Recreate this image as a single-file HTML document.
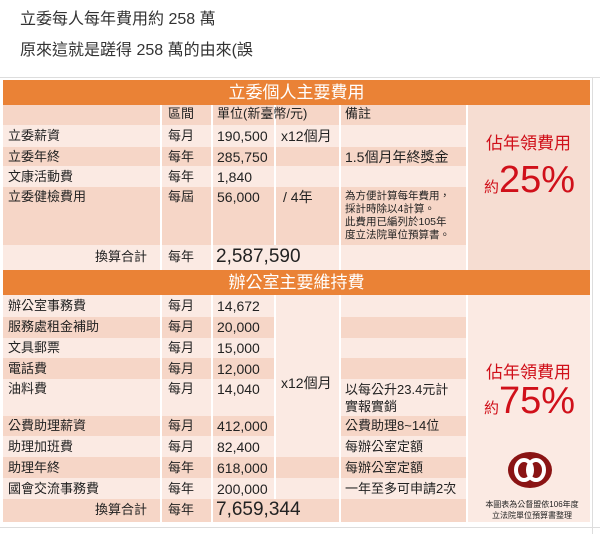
<!DOCTYPE html><html><head><meta charset="utf-8"><style>
body{margin:0;width:600px;height:534px;background:#fff;position:relative;overflow:hidden;font-family:"Liberation Sans","Noto Sans CJK TC",sans-serif;}
div{position:absolute;box-sizing:border-box}
.t{font-size:13px;color:#222;line-height:16px;white-space:nowrap}
.r{left:3px;width:463px}
.L{background:#fbeae3}.D{background:#f6d6c7}
.v{top:104px;width:2px;height:418px;background:#fff}
.bar{left:3px;width:587px;height:25px;background:#ea8236;color:#fff;font-size:17px;text-align:center;line-height:25px;z-index:5}
</style></head><body>
<div class="t" style="left:20px;top:10px;font-size:16px;line-height:20px;color:#333">立委每人每年費用約 258 萬</div>
<div class="t" style="left:20px;top:41px;font-size:16px;line-height:20px;color:#333">原來這就是蹉得 258 萬的由來(誤</div>
<div style="left:0;top:77px;width:600px;height:1px;background:#ddd"></div>
<div style="left:592px;top:77px;width:1px;height:457px;background:#ddd"></div>
<div class="bar" style="top:80px">立委個人主要費用</div>
<div class="r D" style="top:104px;height:21px"></div>
<div class="r L" style="top:125px;height:22px"></div>
<div class="r D" style="top:147px;height:19px"></div>
<div class="r L" style="top:166px;height:21px"></div>
<div class="r D" style="top:187px;height:58px"></div>
<div class="r L" style="top:245px;height:25px"></div>
<div style="left:468px;top:104px;width:122px;height:166px;background:#f6ddd2"></div>
<div class="bar" style="top:270px">辦公室主要維持費</div>
<div class="r L" style="top:295px;height:227px"></div>
<div class="r D" style="top:317px;height:21px"></div>
<div class="r D" style="top:358px;height:21px"></div>
<div class="r D" style="top:416px;height:20px"></div>
<div class="r D" style="top:457px;height:21px"></div>
<div class="r D" style="top:499px;height:23px"></div>
<div style="left:275px;top:317px;width:65px;height:140px;background:#fbeae3"></div>
<div style="left:275px;top:499px;width:191px;height:23px;background:#f6d6c7"></div>
<div style="left:340px;top:379px;width:126px;height:37px;background:#fbeae3"></div>
<div style="left:468px;top:295px;width:122px;height:227px;background:#fbeae3"></div>
<div class="v" style="left:160px"></div><div class="v" style="left:211px"></div>
<div class="v" style="left:274px;height:141px"></div><div class="v" style="left:339px"></div>
<div class="v" style="left:466px"></div>
<div style="left:274px;top:295px;width:2px;height:204px;background:#fff"></div>
<!-- section 1 text -->
<div class="t" style="left:168px;top:106px">區間</div>
<div class="t" style="left:217px;top:106px">單位(新臺幣/元)</div>
<div class="t" style="left:345px;top:106px">備註</div>
<div class="t" style="left:8px;top:128px">立委薪資</div><div class="t" style="left:168px;top:128px">每月</div><div class="t" style="left:217px;top:128px;font-size:14px">190,500</div><div class="t" style="left:281px;top:128px;font-size:14px">x12個月</div>
<div class="t" style="left:8px;top:149px">立委年終</div><div class="t" style="left:168px;top:149px">每年</div><div class="t" style="left:217px;top:149px;font-size:14px">285,750</div><div class="t" style="left:345px;top:149px;font-size:14px">1.5個月年終獎金</div>
<div class="t" style="left:8px;top:169px">文康活動費</div><div class="t" style="left:168px;top:169px">每年</div><div class="t" style="left:217px;top:169px;font-size:14px">1,840</div>
<div class="t" style="left:8px;top:189px">立委健檢費用</div><div class="t" style="left:168px;top:189px">每屆</div><div class="t" style="left:217px;top:189px;font-size:14px">56,000</div><div class="t" style="left:283px;top:189px;font-size:14px">/ 4年</div>
<div class="t" style="left:345px;top:190px;font-size:10.5px;line-height:13px">為方便計算每年費用，<br>採計時除以4計算。<br>此費用已編列於105年<br>度立法院單位預算書。</div>
<div class="t" style="left:95px;top:249px">換算合計</div><div class="t" style="left:168px;top:249px">每年</div><div class="t" style="left:216px;top:246px;font-size:19px;line-height:22px">2,587,590</div>
<div class="t" style="left:486px;top:136px;color:#d0101a;font-size:17px">佔年領費用</div>
<div class="t" style="left:484px;top:160px;color:#d0101a;font-size:15px;line-height:40px">約<span style="font-size:38px">25%</span></div>
<!-- section 2 text -->
<div class="t" style="left:8px;top:298px">辦公室事務費</div><div class="t" style="left:168px;top:298px">每月</div><div class="t" style="left:217px;top:298px;font-size:14px">14,672</div>
<div class="t" style="left:8px;top:319px">服務處租金補助</div><div class="t" style="left:168px;top:319px">每月</div><div class="t" style="left:217px;top:319px;font-size:14px">20,000</div>
<div class="t" style="left:8px;top:340px">文具郵票</div><div class="t" style="left:168px;top:340px">每月</div><div class="t" style="left:217px;top:340px;font-size:14px">15,000</div>
<div class="t" style="left:8px;top:361px">電話費</div><div class="t" style="left:168px;top:361px">每月</div><div class="t" style="left:217px;top:361px;font-size:14px">12,000</div>
<div class="t" style="left:8px;top:381px">油料費</div><div class="t" style="left:168px;top:381px">每月</div><div class="t" style="left:217px;top:381px;font-size:14px">14,040</div><div class="t" style="left:281px;top:375px;font-size:14px">x12個月</div>
<div class="t" style="left:345px;top:381px;font-size:13px;line-height:17px">以每公升23.4元計<br>實報實銷</div>
<div class="t" style="left:8px;top:418px">公費助理薪資</div><div class="t" style="left:168px;top:418px">每月</div><div class="t" style="left:217px;top:418px;font-size:14px">412,000</div><div class="t" style="left:345px;top:418px">公費助理8~14位</div>
<div class="t" style="left:8px;top:439px">助理加班費</div><div class="t" style="left:168px;top:439px">每月</div><div class="t" style="left:217px;top:439px;font-size:14px">82,400</div><div class="t" style="left:345px;top:439px">每辦公室定額</div>
<div class="t" style="left:8px;top:460px">助理年終</div><div class="t" style="left:168px;top:460px">每年</div><div class="t" style="left:217px;top:460px;font-size:14px">618,000</div><div class="t" style="left:345px;top:460px">每辦公室定額</div>
<div class="t" style="left:8px;top:481px">國會交流事務費</div><div class="t" style="left:168px;top:481px">每年</div><div class="t" style="left:217px;top:481px;font-size:14px">200,000</div><div class="t" style="left:345px;top:481px">一年至多可申請2次</div>
<div class="t" style="left:95px;top:502px">換算合計</div><div class="t" style="left:168px;top:502px">每年</div><div class="t" style="left:216px;top:499px;font-size:19px;line-height:22px">7,659,344</div>
<div class="t" style="left:486px;top:365px;color:#d0101a;font-size:17px">佔年領費用</div>
<div class="t" style="left:484px;top:381px;color:#d0101a;font-size:15px;line-height:40px">約<span style="font-size:38px">75%</span></div>
<svg style="position:absolute;left:508px;top:452px" width="44" height="36"><ellipse cx="22" cy="18" rx="22" ry="18" fill="#8a1414"/><ellipse cx="16" cy="18" rx="8" ry="10" fill="none" stroke="#fff" stroke-width="4"/><ellipse cx="28" cy="18" rx="8" ry="10" fill="none" stroke="#fff" stroke-width="4"/></svg>
<div class="t" style="left:482px;top:499px;font-size:8px;line-height:11px;text-align:center;width:100px">本圖表為公督盟依106年度<br>立法院單位預算書整理</div>
<div style="left:0;top:527px;width:600px;height:1px;background:#ddd"></div>
</body></html>
